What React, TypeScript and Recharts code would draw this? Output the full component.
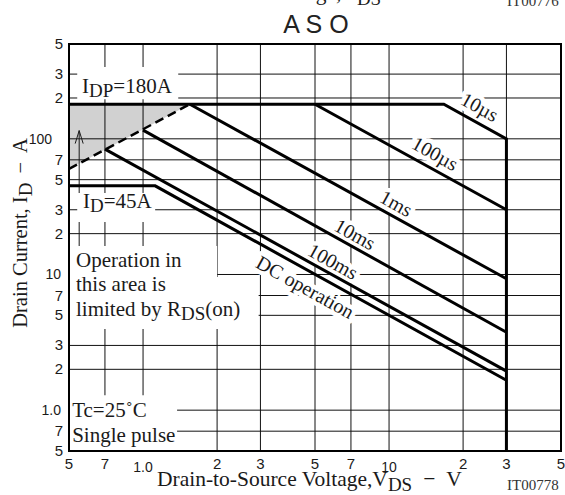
import React from 'react';
import {
  ComposedChart,
  Line,
  Area,
  XAxis,
  YAxis,
  CartesianGrid,
  ReferenceArea,
  ReferenceDot,
} from 'recharts';

const SERIF = '"Liberation Serif", "Times New Roman", serif';
const SANS = '"Liberation Sans", Arial, sans-serif';
const INK = '#1a1a1a';

// axes (log-log)
const xTicks = [0.5, 0.7, 1, 2, 3, 5, 7, 10, 20, 30, 50];
const xTickLabels = ['5', '7', '1.0', '2', '3', '5', '7', '10', '2', '3', '5'];
const yTicks = [0.5, 0.7, 1, 2, 3, 5, 7, 10, 20, 30, 50, 70, 100, 200, 300, 500];
const yTickLabels = ['5', '7', '1.0', '2', '3', '5', '7', '10', '2', '3', '5', '7', '100', '2', '3', '5'];

// SOA boundaries, pairs of [V_DS, I_D]
const limit10us = [[0.5, 180], [16.7, 180], [30, 100], [30, 0.5]];
const line100us = [[5, 180], [30, 30]];
const line1ms = [[1.55, 180], [30, 9.3]];
const line10ms = [[1, 116], [30, 3.75]];
const line100ms = [[0.7, 84], [30, 1.94]];
const lineDC = [[0.5, 45], [1.12, 45], [30, 1.66]];
const rdsOn = [[0.5, 60], [1.55, 180]];
const arrowPts = [[0.55, 16.2], [0.55, 115]];
// shaded region under I_DP and above the R_DS(on) limit: [V_DS, low, high]
const shadePts = [[0.5, 60, 180], [1.55, 180, 180]];

const curveLabels = ['10µs', '100µs', '1ms', '10ms', '100ms', 'DC operation'];
const curveLabelAt = [[23.4, 172], [15.4, 78], [10.7, 33.5], [7.27, 19.8], [5.92, 12.5], [4.56, 8.1]];

const toPts = (arr: number[][]) => arr.map(([v, i]) => ({ v, i }));
const shade = shadePts.map(([v, lo, hi]) => ({ v, r: [lo, hi] }));

// white boxes behind the in-plot notes
const boxes = [
  { x1: 0.54, x2: 1.39, y1: 196, y2: 338 },
  { x1: 0.54, x2: 1.12, y1: 24.4, y2: 39.9 },
  { x1: 0.5, x2: 2.0, y1: 9.57, y2: 16.2 },
  { x1: 0.5, x2: 2.95, y1: 3.97, y2: 9.57 },
  { x1: 0.5, x2: 1.375, y1: 0.5, y2: 1.29 },
];

const XTick = (props: any) => {
  const { x, y, payload } = props;
  const label = xTickLabels[xTicks.indexOf(payload.value)];
  const decade = label === '10' || label === '1.0';
  return (
    <text x={x} y={y + (decade ? 21 : 18)} textAnchor="middle" fontFamily={SANS} fontSize={decade ? 14 : 15} fill={INK}>
      {label}
    </text>
  );
};

const YTick = (props: any) => {
  const { x, y, payload } = props;
  const label = yTickLabels[yTicks.indexOf(payload.value)];
  const big = label === '100';
  const decade = label === '10' || label === '1.0';
  const dx = big ? -17 : decade ? -8 : -6;
  return (
    <text x={x + dx} y={y + 5} textAnchor="end" fontFamily={SANS} fontSize={14 + (big || decade ? 0 : 1)} fill={INK}>
      {label}
    </text>
  );
};

const halo = { stroke: '#fff', strokeWidth: 9, paintOrder: 'stroke' as const, strokeLinejoin: 'round' as const };
const NOTE = 21;
const SUB = 19;

const CurveText = ({ cx, cy, text }: any) => (
  <text
    x={cx}
    y={cy}
    transform={`rotate(29 ${cx} ${cy})`}
    textAnchor="middle"
    dominantBaseline="central"
    fontFamily={SERIF}
    fontSize={20}
    fill={INK}
    {...halo}
  >
    {text}
  </text>
);

const NoteIDP = ({ cx, cy }: any) => (
  <text x={cx} y={cy} fontFamily={SERIF} fontSize={NOTE} fill={INK}>
    I<tspan dy={4} fontSize={SUB}>DP</tspan>
    <tspan dy={-4}>=180A</tspan>
  </text>
);

const NoteID = ({ cx, cy }: any) => (
  <text x={cx} y={cy} fontFamily={SERIF} fontSize={NOTE} fill={INK}>
    I<tspan dy={4} fontSize={SUB}>D</tspan>
    <tspan dy={-4}>=45A</tspan>
  </text>
);

const NoteRds = ({ cx, cy }: any) => (
  <text x={cx} y={cy} fontFamily={SERIF} fontSize={NOTE} fill={INK}>
    <tspan x={cx}>Operation in</tspan>
    <tspan x={cx} dy={24.5}>this area is</tspan>
    <tspan x={cx} dy={24.5}>limited by R</tspan>
    <tspan dy={4} fontSize={SUB}>DS</tspan>
    <tspan dy={-4}>(on)</tspan>
  </text>
);

const NoteTc = ({ cx, cy }: any) => (
  <text x={cx} y={cy} fontFamily={SERIF} fontSize={NOTE} fill={INK}>
    <tspan x={cx}>Tc=25˚C</tspan>
    <tspan x={cx} dy={25}>Single pulse</tspan>
  </text>
);

const ArrowHead = (props: any) => {
  const { cx, cy, index } = props;
  if (index !== 1) return <g key={index} />;
  return <path key={index} d={`M${cx - 4},${cy + 13} L${cx},${cy} L${cx + 4},${cy + 13}`} fill="none" stroke={INK} strokeWidth={1} />;
};

const boundary = { stroke: '#000', strokeWidth: 3, dot: false, isAnimationActive: false, type: 'linear' as const };

const XTitle = ({ x, y }: { x: number; y: number }) => (
  <text x={x} y={y} fontFamily={SERIF} fontSize={21.5} fill={INK}>
    Drain-to-Source Voltage,V<tspan dy={5} fontSize={19}>DS</tspan>
    <tspan dy={-5} dx={11}>−</tspan>
    <tspan dx={11}>V</tspan>
  </text>
);

const App = () => {
  return (
    <div style={{ position: 'absolute', left: 0, top: 0, width: 565, height: 495, background: '#fff' }}>
      <ComposedChart width={565} height={495} margin={{ top: 44, right: 4, bottom: 14, left: 9 }}>
        <CartesianGrid stroke="#111" strokeWidth={1} />
        <XAxis
          dataKey="v"
          type="number"
          scale="log"
          domain={[0.5, 50]}
          ticks={xTicks}
          allowDataOverflow
          axisLine={false}
          tickLine={false}
          tickSize={0}
          tickMargin={0}
          tick={<XTick />}
          interval={0}
          height={30}
        />
        <YAxis
          dataKey="i"
          type="number"
          scale="log"
          domain={[0.5, 500]}
          ticks={yTicks}
          allowDataOverflow
          axisLine={false}
          tickLine={false}
          tickSize={0}
          tickMargin={0}
          tick={<YTick />}
          interval={0}
          width={60}
        />
        <Area data={shade} dataKey="r" type="linear" fill="#000" fillOpacity={0.18} stroke="none" isAnimationActive={false} />
        {boxes.map((b, k) => (
          <ReferenceArea key={k} x1={b.x1} x2={b.x2} y1={b.y1} y2={b.y2} fill="#fff" fillOpacity={1} stroke="none" zIndex={450} />
        ))}
        <Line data={toPts(arrowPts)} dataKey="i" stroke={INK} strokeWidth={1} dot={<ArrowHead />} isAnimationActive={false} type="linear" />
        <Line data={toPts(rdsOn)} dataKey="i" {...boundary} strokeWidth={2.5} strokeDasharray="9 5" />
        <Line data={toPts(limit10us)} dataKey="i" {...boundary} />
        <Line data={toPts(line100us)} dataKey="i" {...boundary} />
        <Line data={toPts(line1ms)} dataKey="i" {...boundary} />
        <Line data={toPts(line10ms)} dataKey="i" {...boundary} />
        <Line data={toPts(line100ms)} dataKey="i" {...boundary} />
        <Line data={toPts(lineDC)} dataKey="i" {...boundary} />
        <ReferenceArea x1={0.5} x2={50} y1={0.5} y2={500} fill="none" stroke="#000" strokeWidth={2} ifOverflow="visible" zIndex={460} />
        {curveLabels.map((t, k) => (
          <ReferenceDot
            key={t}
            x={curveLabelAt[k][0]}
            y={curveLabelAt[k][1]}
            r={0}
            zIndex={350}
            shape={(p: any) => <CurveText cx={p.cx} cy={p.cy} text={t} />}
          />
        ))}
        <ReferenceDot x={0.565} y={217} r={0} zIndex={470} shape={(p: any) => <NoteIDP cx={p.cx} cy={p.cy} />} />
        <ReferenceDot x={0.57} y={30.9} r={0} zIndex={470} shape={(p: any) => <NoteID cx={p.cx} cy={p.cy} />} />
        <ReferenceDot x={0.534} y={11.36} r={0} zIndex={470} shape={(p: any) => <NoteRds cx={p.cx} cy={p.cy} />} />
        <ReferenceDot x={0.515} y={0.89} r={0} zIndex={470} shape={(p: any) => <NoteTc cx={p.cx} cy={p.cy} />} />
      </ComposedChart>
      <svg width={565} height={495} style={{ position: 'absolute', left: 0, top: 0, pointerEvents: 'none' }}>
        {/* tail of the previous figure's caption, cut by the page edge */}
        <XTitle x={126} y={0} />
        <text x={507} y={6} fontFamily={SERIF} fontSize={15} fill="#333">IT00776</text>
        <text x={316} y={33} textAnchor="middle" fontFamily={SANS} fontSize={25} fill="#222">A S O</text>
        <text x={0} y={0} transform="translate(27 233) rotate(-90)" textAnchor="middle" fontFamily={SERIF} fontSize={20.5} fill={INK}>
          Drain Current, I<tspan dy={5} fontSize={19}>D</tspan>
          <tspan dy={-5} dx={9}>−</tspan>
          <tspan dx={9}>A</tspan>
        </text>
        <XTitle x={157} y={486} />
        <text x={507} y={490} fontFamily={SERIF} fontSize={15} fill="#333">IT00778</text>
      </svg>
    </div>
  );
};

export default App;
